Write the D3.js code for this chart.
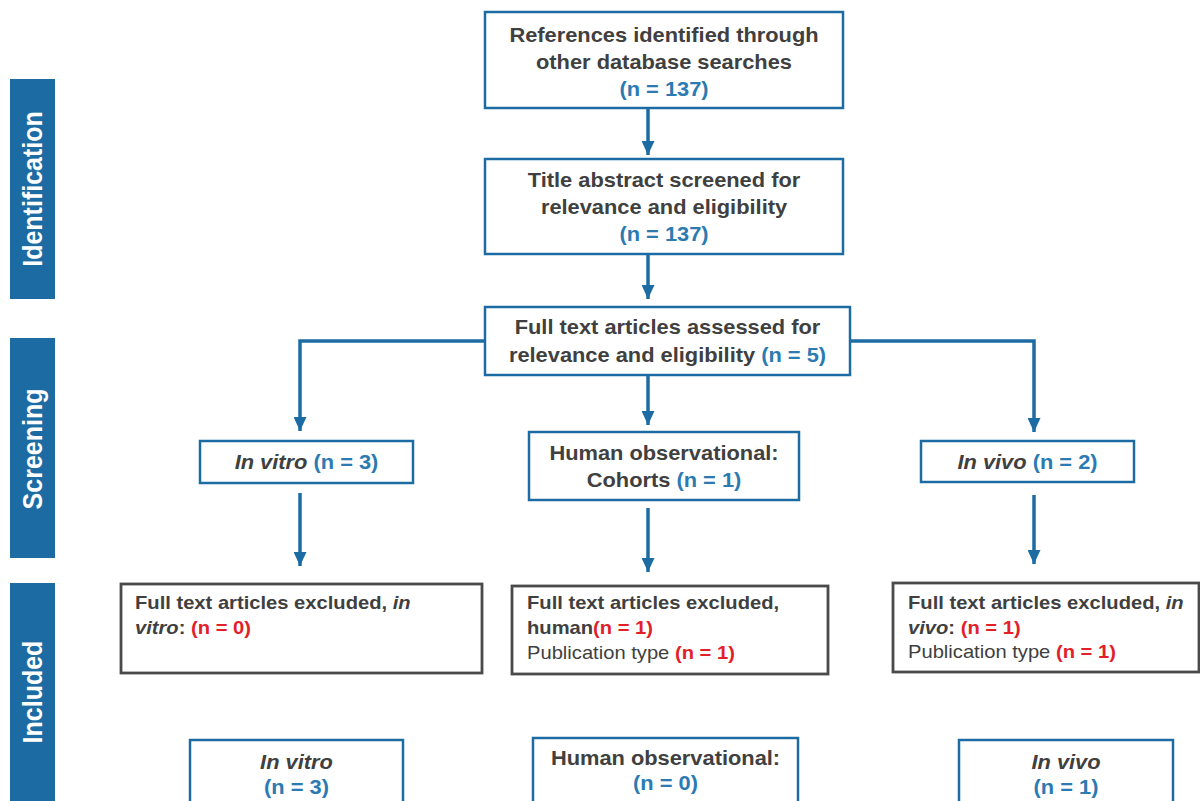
<!DOCTYPE html>
<html>
<head>
<meta charset="utf-8">
<script src="https://cdn.jsdelivr.net/npm/d3@7"></script>
<style>
  html, body { margin: 0; padding: 0; background: #fff; }
  svg { display: block; }
</style>
</head>
<body>
<svg id="flow" width="1200" height="801"></svg>
<script>
// Данные PRISMA-схемы
const stageLabels = ["Identification", "Screening", "Included"];
const studyTypes = ["In vitro", "Human observational", "In vivo"];
const identifiedN = 137;
const screenedN = 137;
const assessedN = 5;
const typeCounts = [3, 1, 2];
const excludedCounts = [0, 1, 1];
const publicationTypeExcluded = [null, 1, 1];
const includedCounts = [3, 0, 1];

const svg = d3.select("#flow");

// цвета
const BLUE = "#1c6ca3";
const NBLUE = "#2b7bb2";
const GRAY = "#404040";
const RED = "#e3202a";
const SX = 1.12; // картинка слегка растянута по горизонтали

// сегменты текста
const t = (s) => ({ s, w: "bold", fs: "normal", c: GRAY });
const ti = (s) => ({ s, w: "bold", fs: "italic", c: GRAY });
const n = (v) => ({ s: `(n = ${v})`, w: "bold", fs: "normal", c: NBLUE });
const r = (v) => ({ s: `(n = ${v})`, w: "bold", fs: "normal", c: RED });
const p = (s) => ({ s, w: "normal", fs: "normal", c: GRAY });

// содержимое блоков
const boxes = [
  { id: "identified", kind: "blue",
    lines: [[t("References identified through")], [t("other database searches")], [n(identifiedN)]] },
  { id: "screened", kind: "blue",
    lines: [[t("Title abstract screened for")], [t("relevance and eligibility")], [n(screenedN)]] },
  { id: "assessed", kind: "blue",
    lines: [[t("Full text articles assessed for")], [t("relevance and eligibility "), n(assessedN)]] },
  { id: "type0", kind: "blue", lines: [[ti(studyTypes[0]), t(" "), n(typeCounts[0])]] },
  { id: "type1", kind: "blue",
    lines: [[t(studyTypes[1] + ":")], [t("Cohorts "), n(typeCounts[1])]] },
  { id: "type2", kind: "blue", lines: [[ti(studyTypes[2]), t(" "), n(typeCounts[2])]] },
  { id: "excl0", kind: "gray",
    lines: [[t("Full text articles excluded, "), ti("in")], [ti("vitro"), t(": "), r(excludedCounts[0])]] },
  { id: "excl1", kind: "gray",
    lines: [[t("Full text articles excluded,")], [t("human"), r(excludedCounts[1])],
            [p("Publication type "), r(publicationTypeExcluded[1])]] },
  { id: "excl2", kind: "gray",
    lines: [[t("Full text articles excluded, "), ti("in")], [ti("vivo"), t(": "), r(excludedCounts[2])],
            [p("Publication type "), r(publicationTypeExcluded[2])]] },
  { id: "incl0", kind: "blue", lines: [[ti(studyTypes[0])], [n(includedCounts[0])]] },
  { id: "incl1", kind: "blue", lines: [[t(studyTypes[1] + ":")], [n(includedCounts[1])]] },
  { id: "incl2", kind: "blue", lines: [[ti(studyTypes[2])], [n(includedCounts[2])]] },
];

// раскладка блоков
const layout = {
  identified: { x: 485, y: 12, w: 358, h: 96, base: 42, lh: 27, fs: 19.5 },
  screened:   { x: 485, y: 159, w: 358, h: 95, base: 187, lh: 27, fs: 19.5 },
  assessed:   { x: 485, y: 307, w: 365, h: 68, base: 334, lh: 28, fs: 19.5 },
  type0:      { x: 200, y: 441, w: 213, h: 42, base: 469, lh: 27, fs: 19.5 },
  type1:      { x: 529, y: 432, w: 270, h: 68, base: 460, lh: 27, fs: 19.5 },
  type2:      { x: 921, y: 441, w: 213, h: 41, base: 469, lh: 27, fs: 19.5 },
  excl0:      { x: 121, y: 584, w: 361, h: 89, base: 609, lh: 25, fs: 18, left: 135 },
  excl1:      { x: 512, y: 586, w: 316, h: 88, base: 609, lh: 25, fs: 18, left: 527 },
  excl2:      { x: 893, y: 583, w: 306, h: 89, base: 609, lh: 24.5, fs: 18, left: 908 },
  incl0:      { x: 190, y: 740, w: 213, h: 90, base: 769, lh: 25, fs: 19.5 },
  incl1:      { x: 533, y: 738, w: 265, h: 92, base: 765, lh: 25, fs: 19.5 },
  incl2:      { x: 959, y: 740, w: 214, h: 90, base: 769, lh: 25, fs: 19.5 },
};

const sidebars = [
  { y0: 79, y1: 299, cy: 189 },
  { y0: 338, y1: 558, cy: 449 },
  { y0: 583, y1: 830, cy: 692 },
];

// стрелки
const arrows = [
  [[648, 108], [648, 155]],
  [[648, 254], [648, 299]],
  [[648, 376], [648, 425]],
  [[485, 341], [300, 341], [300, 431]],
  [[850, 341], [1034, 341], [1034, 432]],
  [[300, 493], [300, 566]],
  [[648, 508], [648, 572]],
  [[1034, 495], [1034, 564]],
];

// маркер-наконечник
svg.append("defs")
  .append("marker")
  .attr("id", "head")
  .attr("viewBox", "0 0 14 13")
  .attr("refX", 14)
  .attr("refY", 6.5)
  .attr("markerWidth", 14)
  .attr("markerHeight", 13)
  .attr("markerUnits", "userSpaceOnUse")
  .attr("orient", "auto")
  .append("path")
  .attr("d", "M0,0 L14,6.5 L0,13 Z")
  .attr("fill", BLUE);

// боковые полосы этапов
const side = svg.selectAll("g.side").data(sidebars).enter().append("g").attr("class", "side");
side.append("rect")
  .attr("x", 10).attr("y", (d) => d.y0)
  .attr("width", 45).attr("height", (d) => d.y1 - d.y0)
  .attr("fill", BLUE);
side.append("text")
  .attr("transform", (d) => `translate(42,${d.cy}) rotate(-90) scale(1,${SX})`)
  .attr("text-anchor", "middle")
  .attr("font-family", "'Liberation Sans', Arial, sans-serif")
  .attr("font-weight", "bold")
  .attr("font-size", 25)
  .attr("fill", "#fff")
  .text((d, i) => stageLabels[i]);

// линии со стрелками
const line = d3.line();
svg.selectAll("path.arrow").data(arrows).enter().append("path")
  .attr("class", "arrow")
  .attr("d", (d) => line(d))
  .attr("fill", "none")
  .attr("stroke", BLUE)
  .attr("stroke-width", 3.5)
  .attr("marker-end", "url(#head)");

// блоки
const g = svg.selectAll("g.box").data(boxes).enter().append("g").attr("class", "box");
g.append("rect")
  .attr("x", (d) => layout[d.id].x)
  .attr("y", (d) => layout[d.id].y)
  .attr("width", (d) => layout[d.id].w)
  .attr("height", (d) => layout[d.id].h)
  .attr("fill", "#fff")
  .attr("stroke", (d) => (d.kind === "blue" ? BLUE : "#4a4a4a"))
  .attr("stroke-width", (d) => (d.kind === "blue" ? 2.5 : 2.8));

g.each(function (d) {
  const L = layout[d.id];
  const left = L.left !== undefined;
  const ax = left ? L.left : L.x + L.w / 2;
  d.lines.forEach((segs, i) => {
    const txt = d3.select(this).append("text")
      .attr("transform", `translate(${ax},${L.base + i * L.lh}) scale(${SX},1)`)
      .attr("text-anchor", left ? "start" : "middle")
      .attr("font-family", "'Liberation Sans', Arial, sans-serif")
      .attr("font-size", L.fs)
      .attr("xml:space", "preserve");
    segs.forEach((sg) => {
      txt.append("tspan")
        .attr("font-weight", sg.w)
        .attr("font-style", sg.fs)
        .attr("fill", sg.c)
        .text(sg.s);
    });
  });
});
</script>
</body>
</html>
